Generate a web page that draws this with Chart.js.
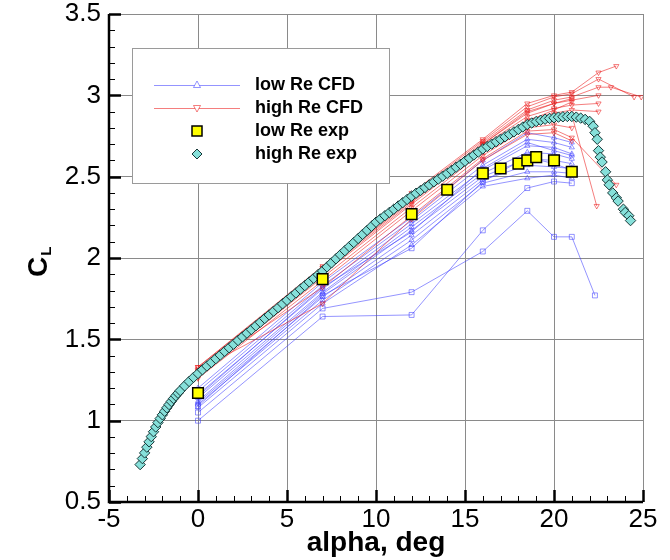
<!DOCTYPE html>
<html>
<head>
<meta charset="utf-8">
<script src="https://cdn.jsdelivr.net/npm/chart.js@4.4.0/dist/chart.umd.min.js"></script>
<style>
  html, body { margin: 0; padding: 0; background: #fff; }
</style>
</head>
<body>
<canvas id="clChart" width="670" height="560"></canvas>
<script>
// CFD runs are sampled at these angles
var cfdAlpha = [0, 7, 12, 16, 18.5, 20, 21];

// low Re CFD (blue)
var lowRe1 = [1.20, 1.85, 2.25, 2.60, 2.77, 2.74, 2.71];
var lowRe2 = [1.18, 1.83, 2.23, 2.57, 2.73, 2.71, 2.68];
var lowRe3 = [1.16, 1.81, 2.21, 2.54, 2.69, 2.68, 2.64];
var lowRe4 = [1.14, 1.79, 2.19, 2.52, 2.65, 2.64, 2.61];
var lowRe5 = [1.12, 1.78, 2.17, 2.50, 2.61, 2.60, 2.58];
var lowRe6 = [1.11, 1.76, 2.14, 2.48, 2.57, 2.56, 2.55];
var lowRe7 = [1.10, 1.74, 2.11, 2.46, 2.53, 2.53, 2.52];
var lowRe8 = [1.08, 1.72, 2.08, 2.44, 2.49, 2.51, 2.49];
var lowRe9 = [1.00, 1.64, 1.65, 2.17, 2.43, 2.47, 2.46];
var lowRe10Alpha = [0, 7, 12, 16, 18.5, 20, 21, 22.3];
var lowRe10 = [1.05, 1.69, 1.79, 2.04, 2.29, 2.13, 2.13, 1.77];
var lowRe11 = [1.15, 1.82, 2.16, 2.55, 2.71, 2.66, 2.63];
var lowRe12 = [1.09, 1.77, 2.06, 2.47, 2.62, 2.58, 2.54];

// high Re CFD (red)
var highRe1Alpha = [0, 7, 12, 16, 18.5, 20, 21, 22.5, 23.5];
var highRe1 = [1.33, 1.95, 2.40, 2.73, 2.95, 3.00, 3.02, 3.14, 3.18];
var highRe2Alpha = [0, 7, 12, 16, 18.5, 20, 21, 22.5, 24.5];
var highRe2 = [1.32, 1.94, 2.39, 2.72, 2.93, 2.99, 3.01, 3.10, 2.99];
var highRe3Alpha = [0, 7, 12, 16, 18.5, 20, 21, 22.5, 23.2, 24.9];
var highRe3 = [1.31, 1.93, 2.37, 2.71, 2.91, 2.97, 2.99, 3.05, 3.05, 2.99];
var highRe4Alpha = [0, 7, 12, 16, 18.5, 20, 21, 22.5];
var highRe4 = [1.30, 1.92, 2.36, 2.70, 2.89, 2.95, 2.97, 3.00];
var highRe5 = [1.29, 1.91, 2.34, 2.69, 2.87, 2.92, 2.94, 2.95];
var highRe6 = [1.28, 1.90, 2.33, 2.67, 2.85, 2.89, 2.91, 2.90];
var highRe7Alpha = [0, 7, 12, 16, 18.5, 20, 21, 22.4];
var highRe7 = [1.27, 1.88, 2.31, 2.65, 2.82, 2.86, 2.88, 2.32];
var highRe8 = [1.26, 1.86, 2.29, 2.63, 2.80, 2.82, 2.80];
var highRe9Alpha = [0, 7, 12, 16, 18.5, 20, 21, 23.5];
var highRe9 = [1.30, 1.82, 2.26, 2.61, 2.78, 2.79, 2.74, 2.45];
var highRe10 = [1.31, 1.72, 2.24, 2.60, 2.76, 2.77, 2.72];
var highRe11 = [1.33, 1.94, 2.38, 2.70, 2.90, 2.95, 2.98];
var highRe12 = [1.29, 1.92, 2.35, 2.66, 2.84, 2.91, 2.96];

// low Re experiment
var lowExpAlpha = [0, 7, 12, 14, 16, 17, 18, 18.5, 19, 20, 21];
var lowExpCl = [1.17, 1.87, 2.27, 2.42, 2.52, 2.55, 2.58, 2.60, 2.62, 2.60, 2.53];

// high Re experiment
var highExpAlpha = [-3.25, -3.125, -3, -2.875, -2.75, -2.625, -2.5, -2.375, -2.25, -2.125, -2, -1.875,
  -1.75, -1.625, -1.5, -1.375, -1.25, -1.125, -1, -0.75, -0.5, -0.25,
  0, 0.25, 0.5, 0.75, 1, 1.25, 1.5, 1.75, 2, 2.25, 2.5, 2.75, 3, 3.25, 3.5, 3.75,
  4, 4.25, 4.5, 4.75, 5, 5.25, 5.5, 5.75, 6, 6.25, 6.5, 6.75, 7, 7.25, 7.5, 7.75,
  8, 8.25, 8.5, 8.75, 9, 9.25, 9.5, 9.75, 10, 10.25, 10.5, 10.75, 11, 11.25, 11.5, 11.75,
  12, 12.25, 12.5, 12.75, 13, 13.25, 13.5, 13.75, 14, 14.25, 14.5, 14.75, 15, 15.25, 15.5, 15.75,
  16, 16.25, 16.5, 16.75, 17, 17.25, 17.5, 17.75, 18, 18.25, 18.5, 18.75, 19, 19.25, 19.5, 19.75,
  20, 20.25, 20.5, 20.75, 21, 21.25, 21.5, 21.75,
  22, 22.2, 22.3, 22.43, 22.5, 22.6, 22.7, 22.9, 23, 23.1, 23.3, 23.5, 23.6, 23.9, 24, 24.2, 24.3];
var highExpCl = [0.730, 0.767, 0.802, 0.837, 0.870, 0.902, 0.932, 0.961, 0.988, 1.013, 1.036, 1.058,
  1.079, 1.099, 1.118, 1.136, 1.153, 1.169, 1.185, 1.214, 1.241, 1.266,
  1.290, 1.313, 1.336, 1.358, 1.381, 1.403, 1.426, 1.448, 1.470, 1.493, 1.515, 1.538, 1.560, 1.583, 1.605, 1.628,
  1.650, 1.673, 1.695, 1.718, 1.740, 1.763, 1.785, 1.808, 1.830, 1.853, 1.875, 1.898, 1.920, 1.945, 1.970, 1.995,
  2.020, 2.045, 2.070, 2.095, 2.120, 2.145, 2.170, 2.195, 2.220, 2.240, 2.260, 2.280, 2.300, 2.320, 2.340, 2.360,
  2.380, 2.398, 2.415, 2.433, 2.450, 2.468, 2.485, 2.503, 2.520, 2.539, 2.558, 2.576, 2.595, 2.614, 2.633, 2.651,
  2.670, 2.685, 2.700, 2.715, 2.730, 2.745, 2.760, 2.775, 2.790, 2.805, 2.820, 2.830, 2.839, 2.847, 2.853, 2.858,
  2.862, 2.866, 2.868, 2.870, 2.870, 2.866, 2.860, 2.852,
  2.840, 2.810, 2.770, 2.730, 2.660, 2.620, 2.590, 2.530, 2.480, 2.450, 2.400, 2.370, 2.350, 2.300, 2.280, 2.260, 2.230];

var xTicks = [-5, 0, 5, 10, 15, 20, 25];
var yTicks = [0.5, 1, 1.5, 2, 2.5, 3, 3.5];

var BLUE = 'rgba(60, 60, 255, 0.55)';
var RED = 'rgba(235, 20, 20, 0.55)';
var FONT = '"Liberation Sans", Arial, Helvetica, sans-serif';

function pts(xs, ys) {
  return ys.map(function (y, i) { return { x: xs[i], y: y }; });
}

function cfdSet(label, xs, ys, color, style, rot) {
  return {
    label: label,
    data: pts(xs, ys),
    showLine: true,
    borderColor: color,
    borderWidth: 1,
    backgroundColor: 'rgba(0,0,0,0)',
    pointStyle: style,
    pointRotation: rot,
    pointRadius: style === 'rect' ? 3.5 : 3,
    pointBorderColor: color,
    pointBorderWidth: 1,
    pointBackgroundColor: 'rgba(255,255,255,0)',
    order: color === BLUE ? 3 : 2
  };
}

var datasets = [
  cfdSet('low Re CFD', cfdAlpha, lowRe1, BLUE, 'triangle', 0),
  cfdSet('low Re CFD', cfdAlpha, lowRe2, BLUE, 'triangle', 0),
  cfdSet('low Re CFD', cfdAlpha, lowRe3, BLUE, 'triangle', 0),
  cfdSet('low Re CFD', cfdAlpha, lowRe4, BLUE, 'triangle', 0),
  cfdSet('low Re CFD', cfdAlpha, lowRe5, BLUE, 'triangle', 0),
  cfdSet('low Re CFD', cfdAlpha, lowRe6, BLUE, 'triangle', 0),
  cfdSet('low Re CFD', cfdAlpha, lowRe7, BLUE, 'triangle', 0),
  cfdSet('low Re CFD', cfdAlpha, lowRe8, BLUE, 'triangle', 0),
  cfdSet('low Re CFD', cfdAlpha, lowRe9, BLUE, 'rect', 0),
  cfdSet('low Re CFD', lowRe10Alpha, lowRe10, BLUE, 'rect', 0),
  cfdSet('low Re CFD', cfdAlpha, lowRe11, BLUE, 'triangle', 0),
  cfdSet('low Re CFD', cfdAlpha, lowRe12, BLUE, 'rect', 0),
  cfdSet('high Re CFD', highRe1Alpha, highRe1, RED, 'triangle', 180),
  cfdSet('high Re CFD', highRe2Alpha, highRe2, RED, 'triangle', 180),
  cfdSet('high Re CFD', highRe3Alpha, highRe3, RED, 'triangle', 180),
  cfdSet('high Re CFD', highRe4Alpha, highRe4, RED, 'triangle', 180),
  cfdSet('high Re CFD', highRe4Alpha, highRe5, RED, 'triangle', 180),
  cfdSet('high Re CFD', highRe4Alpha, highRe6, RED, 'triangle', 180),
  cfdSet('high Re CFD', highRe7Alpha, highRe7, RED, 'triangle', 180),
  cfdSet('high Re CFD', cfdAlpha, highRe8, RED, 'triangle', 180),
  cfdSet('high Re CFD', highRe9Alpha, highRe9, RED, 'triangle', 180),
  cfdSet('high Re CFD', cfdAlpha, highRe10, RED, 'triangle', 180),
  cfdSet('high Re CFD', cfdAlpha, highRe11, RED, 'triangle', 180),
  cfdSet('high Re CFD', cfdAlpha, highRe12, RED, 'triangle', 180),
  {
    label: 'high Re exp',
    data: pts(highExpAlpha, highExpCl),
    showLine: false,
    pointStyle: 'rectRot',
    pointRadius: 5.2,
    pointBackgroundColor: '#86e0da',
    pointBorderColor: '#163636',
    pointBorderWidth: 1,
    order: 1
  },
  {
    label: 'low Re exp',
    data: pts(lowExpAlpha, lowExpCl),
    showLine: false,
    pointStyle: 'rect',
    pointRadius: 7.5,
    pointBackgroundColor: '#ffff00',
    pointBorderColor: '#000',
    pointBorderWidth: 1.5,
    order: 0
  }
];

// axis lines, inward ticks, legend box and the C_L title
var decor = {
  id: 'decor',
  afterDraw: function (chart) {
    var ctx = chart.ctx, xs = chart.scales.x, ys = chart.scales.y;
    var a = chart.chartArea;
    ctx.save();
    ctx.strokeStyle = '#000';
    var i, p;
    for (i = -5; i <= 25; i++) {
      p = Math.round(xs.getPixelForValue(i)) + 0.5;
      ctx.lineWidth = i % 5 === 0 ? 2.5 : 1;
      ctx.beginPath();
      ctx.moveTo(p, a.bottom);
      ctx.lineTo(p, a.bottom - (i % 5 === 0 ? 12 : 6));
      ctx.stroke();
    }
    for (i = 5; i <= 35; i++) {
      p = Math.round(ys.getPixelForValue(i / 10)) + 0.5;
      ctx.lineWidth = i % 5 === 0 ? 2.5 : 1;
      ctx.beginPath();
      ctx.moveTo(a.left, p);
      ctx.lineTo(a.left + (i % 5 === 0 ? 12 : 6), p);
      ctx.stroke();
    }
    ctx.lineWidth = 2.5;
    ctx.beginPath();
    ctx.moveTo(a.left, a.top);
    ctx.lineTo(a.left, a.bottom);
    ctx.lineTo(a.right, a.bottom);
    ctx.stroke();

    // legend
    ctx.fillStyle = '#fff';
    ctx.fillRect(132, 48, 257, 135);
    ctx.strokeStyle = '#9a9a9a';
    ctx.lineWidth = 1;
    ctx.strokeRect(132.5, 48.5, 257, 135);
    var rows = [
      { t: 'low Re CFD', y: 85 },
      { t: 'high Re CFD', y: 108 },
      { t: 'low Re exp', y: 131 },
      { t: 'high Re exp', y: 154 }
    ];
    var mx = 197;
    ctx.strokeStyle = BLUE;
    ctx.beginPath(); ctx.moveTo(154, 85.5); ctx.lineTo(240, 85.5); ctx.stroke();
    ctx.beginPath(); ctx.moveTo(mx, 81); ctx.lineTo(mx + 3.5, 87.5); ctx.lineTo(mx - 3.5, 87.5); ctx.closePath();
    ctx.fillStyle = '#fff'; ctx.fill(); ctx.stroke();
    ctx.strokeStyle = RED;
    ctx.beginPath(); ctx.moveTo(154, 108.5); ctx.lineTo(240, 108.5); ctx.stroke();
    ctx.beginPath(); ctx.moveTo(mx, 112); ctx.lineTo(mx + 3.5, 105.5); ctx.lineTo(mx - 3.5, 105.5); ctx.closePath();
    ctx.fill(); ctx.stroke();
    ctx.fillStyle = '#ffff00'; ctx.strokeStyle = '#000'; ctx.lineWidth = 1.5;
    ctx.fillRect(mx - 5, 126, 10, 10); ctx.strokeRect(mx - 5, 126, 10, 10);
    ctx.lineWidth = 1;
    ctx.beginPath(); ctx.moveTo(mx, 149); ctx.lineTo(mx + 5, 154); ctx.lineTo(mx, 159); ctx.lineTo(mx - 5, 154); ctx.closePath();
    ctx.fillStyle = '#86e0da'; ctx.fill(); ctx.strokeStyle = '#163636'; ctx.stroke();

    ctx.fillStyle = '#000';
    ctx.font = 'bold 18px ' + FONT;
    ctx.textAlign = 'left';
    ctx.textBaseline = 'middle';
    rows.forEach(function (r) { ctx.fillText(r.t, 255, r.y); });

    // y title: C with subscript L
    ctx.translate(47, 277);
    ctx.rotate(-Math.PI / 2);
    ctx.textBaseline = 'alphabetic';
    ctx.font = 'bold 28px ' + FONT;
    ctx.fillText('C', 0, 0);
    var w = ctx.measureText('C').width;
    ctx.font = 'bold 15px ' + FONT;
    ctx.fillText('L', w + 1, 4);
    ctx.restore();
  }
};

new Chart(document.getElementById('clChart').getContext('2d'), {
  type: 'scatter',
  data: { datasets: datasets },
  options: {
    responsive: false,
    animation: false,
    layout: { padding: { top: 14, right: 27, left: 0, bottom: 0 } },
    plugins: { legend: { display: false }, tooltip: { enabled: false } },
    scales: {
      x: {
        type: 'linear', min: -5, max: 25,
        afterFit: function (s) { s.height = 58; s.paddingLeft = 0; s.paddingRight = 0; },
        afterBuildTicks: function (s) { s.ticks = xTicks.map(function (v) { return { value: v }; }); },
        ticks: { color: '#000', padding: 2, maxRotation: 0, font: { family: FONT, size: 26 },
                 callback: function (v) { return String(v); } },
        grid: { color: '#8a8a8a', lineWidth: 1, drawTicks: false },
        border: { display: false },
        title: { display: true, text: 'alpha, deg', color: '#000', padding: { top: 0, bottom: 0 },
                 font: { family: FONT, size: 28, weight: 'bold' } }
      },
      y: {
        type: 'linear', min: 0.5, max: 3.5,
        afterFit: function (s) { s.width = 109; s.paddingTop = 0; s.paddingBottom = 0; },
        afterBuildTicks: function (s) { s.ticks = yTicks.map(function (v) { return { value: v }; }); },
        ticks: { color: '#000', padding: 8, font: { family: FONT, size: 26 },
                 callback: function (v) { return String(v); } },
        grid: { color: '#8a8a8a', lineWidth: 1, drawTicks: false },
        border: { display: false }
      }
    }
  },
  plugins: [decor]
});
</script>
</body>
</html>
